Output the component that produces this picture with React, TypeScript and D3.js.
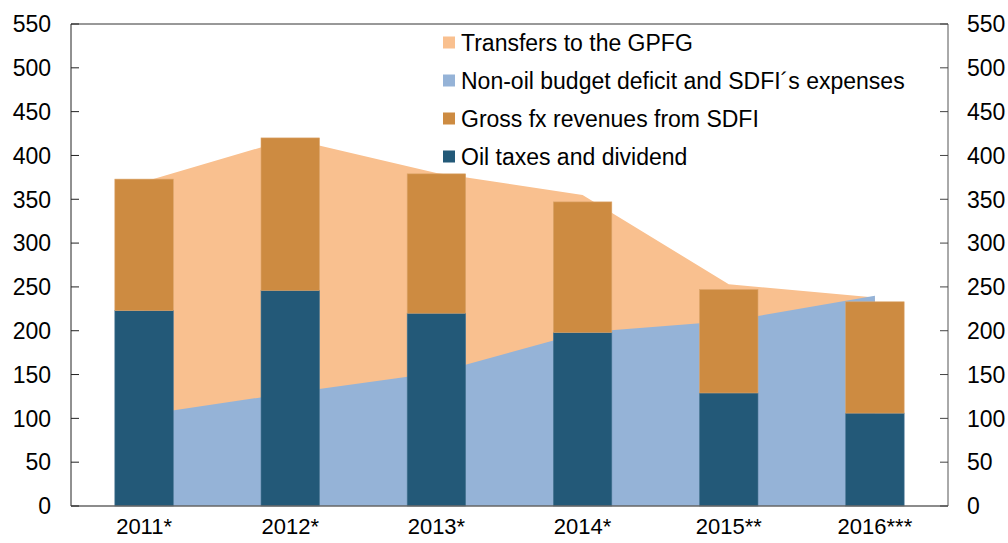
import React from "react";
import * as d3 from "d3";

const categories = ["2011*", "2012*", "2013*", "2014*", "2015**", "2016***"];
const oilTaxes = [223, 246, 220, 198, 129, 106];
const sdfiRevenues = [150, 174, 159, 149, 118, 127];
const nonOilDeficit = [104, 129, 152, 198, 211, 240];
const transfersGPFG = [266, 290, 228, 157, 42, -2];
const yTicks = [0, 50, 100, 150, 200, 250, 300, 350, 400, 450, 500, 550];

const legendItems = [
  { label: "Transfers to the GPFG", color: "#F9C08F" },
  { label: "Non-oil budget deficit and SDFI\u00B4s expenses", color: "#95B3D7" },
  { label: "Gross fx revenues from SDFI", color: "#CD8B41" },
  { label: "Oil taxes and dividend", color: "#235978" },
];

const W = 1008;
const H = 543;
const left = 71;
const right = 948;
const top = 24;
const bottom = 506;
const font = "'Liberation Sans', Arial, sans-serif";

export default function App() {
  const x = d3.scaleBand<string>().domain(categories).range([left, right]).paddingInner(0).paddingOuter(0);
  const y = d3.scaleLinear().domain([0, 550]).range([bottom, top]);
  const bw = x.bandwidth() * 0.4;
  const cx = (c: string) => (x(c) as number) + x.bandwidth() / 2;

  const peachTop = categories.map((c, i) => ({ c, v: nonOilDeficit[i] + transfersGPFG[i] }));
  const blueTop = categories.map((c, i) => ({ c, v: nonOilDeficit[i] }));
  const area = d3
    .area<{ c: string; v: number }>()
    .x((d) => cx(d.c))
    .y0(y(0))
    .y1((d) => y(d.v));

  return (
    <svg width={W} height={H} style={{ position: "absolute", left: 0, top: 0, background: "#fff" }}>
      <path d={area(peachTop) || ""} fill="#F9C08F" />
      <path d={area(blueTop) || ""} fill="#95B3D7" />
      {categories.map((c, i) => (
        <g key={c}>
          <rect
            x={cx(c) - bw / 2}
            y={y(oilTaxes[i])}
            width={bw}
            height={y(0) - y(oilTaxes[i])}
            fill="#235978"
            stroke="#4a7794"
            strokeWidth={0.6}
          />
          <rect
            x={cx(c) - bw / 2}
            y={y(oilTaxes[i] + sdfiRevenues[i])}
            width={bw}
            height={y(oilTaxes[i]) - y(oilTaxes[i] + sdfiRevenues[i])}
            fill="#CD8B41"
            stroke="#dba46a"
            strokeWidth={0.6}
          />
        </g>
      ))}
      {/* frame */}
      <line x1={left} x2={right} y1={top} y2={top} stroke="#333" strokeWidth={1} />
      <line x1={left} x2={left} y1={top} y2={bottom} stroke="#222" strokeWidth={1} />
      <line x1={right} x2={right} y1={top} y2={bottom} stroke="#555" strokeWidth={1} />
      <line x1={left} x2={right} y1={bottom} y2={bottom} stroke="#666" strokeWidth={1.5} />
      {yTicks.map((t) => (
        <g key={t}>
          <line x1={left} x2={left + 8} y1={y(t)} y2={y(t)} stroke="#222" strokeWidth={1} />
          <line x1={right - 8} x2={right} y1={y(t)} y2={y(t)} stroke="#444" strokeWidth={1} />
          <text x={51} y={y(t)} dy="0.36em" textAnchor="end" fontFamily={font} fontSize={23} fill="#000">
            {t}
          </text>
          <text x={967} y={y(t)} dy="0.36em" textAnchor="start" fontFamily={font} fontSize={23} fill="#000">
            {t}
          </text>
        </g>
      ))}
      {categories.map((c) => (
        <text key={c} x={cx(c)} y={526} dy="0.36em" textAnchor="middle" fontFamily={font} fontSize={22} fill="#000">
          {c}
        </text>
      ))}
      {legendItems.map((it, i) => (
        <g key={it.label}>
          <rect x={443} y={42.5 + i * 38 - 6} width={12} height={12} fill={it.color} />
          <text x={461} y={42.5 + i * 38} dy="0.36em" fontFamily={font} fontSize={23} fill="#000">
            {it.label}
          </text>
        </g>
      ))}
    </svg>
  );
}
